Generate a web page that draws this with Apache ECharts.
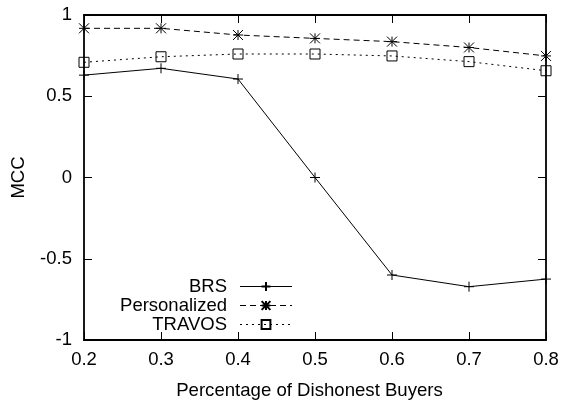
<!DOCTYPE html>
<html>
<head>
<meta charset="utf-8">
<script src="https://cdn.jsdelivr.net/npm/echarts@6/dist/echarts.min.js"></script>
<style>
  html, body { margin: 0; padding: 0; background: #fff; }
  #chart { width: 563px; height: 400px; }
</style>
</head>
<body>
<div id="chart"></div>
<script>
// Fraction of dishonest buyers in the market
const buyerShares = ['0.2', '0.3', '0.4', '0.5', '0.6', '0.7', '0.8'];
// MCC per model
const brsMcc = [0.63, 0.672, 0.606, 0.0, -0.60, -0.672, -0.625];
const personalizedMcc = [0.918, 0.918, 0.877, 0.856, 0.836, 0.80, 0.748];
const travosMcc = [0.709, 0.743, 0.76, 0.76, 0.748, 0.713, 0.657];

const FONT = 'Liberation Sans';
const plusSym = 'path://M5,0L5,10M0,5L10,5';
const starSym = 'path://M0,0L10,10M10,0L0,10M5,0L5,10M0,5L10,5';
const boxSym = 'path://M0,0L10,0L10,10L0,10Z';

const chart = echarts.init(document.getElementById('chart'), null, { renderer: 'canvas' });

const frameAxis = { show: true, onZero: false, lineStyle: { color: '#000', width: 1.8 } };
const innerTick = { show: true, inside: true, length: 8, lineStyle: { color: '#000', width: 1 } };

function lineSeries(name, data, symbol, dash, fill) {
  return {
    name: name,
    type: 'line',
    data: data,
    symbol: symbol,
    symbolSize: 10,
    showSymbol: true,
    animation: false,
    lineStyle: { color: '#000', width: 1, type: dash },
    itemStyle: { color: fill, borderColor: '#000', borderWidth: 1 },
    emphasis: { disabled: true }
  };
}

chart.setOption({
  animation: false,
  backgroundColor: '#fff',
  grid: { left: 84, right: 17, top: 15, bottom: 60, containLabel: false, outerBoundsMode: 'none' },
  legend: {
    orient: 'vertical',
    left: 112,
    top: 272,
    align: 'right',
    itemWidth: 52,
    itemHeight: 11,
    itemGap: 0,
    selectedMode: false,
    lineStyle: { width: 1 },
    data: ['BRS', 'Personalized', 'TRAVOS'],
    formatter: function (n) { return '{t|' + n + '}'; },
    textStyle: {
      fontFamily: FONT,
      fontSize: 18.5,
      color: '#000',
      rich: { t: { width: 110, align: 'right', padding: [0, 8, 0, 0], fontFamily: FONT, fontSize: 18.5, lineHeight: 19, color: '#000' } }
    }
  },
  xAxis: [
    {
      type: 'category',
      data: buyerShares,
      boundaryGap: false,
      position: 'bottom',
      axisLine: frameAxis,
      axisTick: innerTick,
      axisLabel: { fontFamily: FONT, fontSize: 18.5, color: '#000', margin: 10 },
      splitLine: { show: false },
      name: 'Percentage of Dishonest Buyers',
      nameLocation: 'middle',
      nameGap: 41,
      nameTextStyle: { fontFamily: FONT, fontSize: 18.6, color: '#000', padding: [0, 11, 0, 0] }
    },
    {
      type: 'category',
      data: buyerShares,
      boundaryGap: false,
      position: 'top',
      axisLine: frameAxis,
      axisTick: innerTick,
      axisLabel: { show: false },
      splitLine: { show: false }
    }
  ],
  yAxis: [
    {
      type: 'value',
      min: -1,
      max: 1,
      interval: 0.5,
      position: 'left',
      axisLine: frameAxis,
      axisTick: innerTick,
      axisLabel: { fontFamily: FONT, fontSize: 18.5, color: '#000', margin: 12 },
      splitLine: { show: false },
      name: 'MCC',
      nameLocation: 'middle',
      nameGap: 56,
      nameRotate: 90,
      nameTextStyle: { fontFamily: FONT, fontSize: 18.5, color: '#000' }
    },
    {
      type: 'value',
      min: -1,
      max: 1,
      interval: 0.5,
      position: 'right',
      axisLine: frameAxis,
      axisTick: innerTick,
      axisLabel: { show: false },
      splitLine: { show: false }
    }
  ],
  series: [
    lineSeries('BRS', brsMcc, plusSym, 'solid', '#000'),
    lineSeries('Personalized', personalizedMcc, starSym, [6, 4], '#000'),
    lineSeries('TRAVOS', travosMcc, boxSym, [2, 4], 'rgba(255,255,255,0)')
  ]
});
</script>
</body>
</html>
